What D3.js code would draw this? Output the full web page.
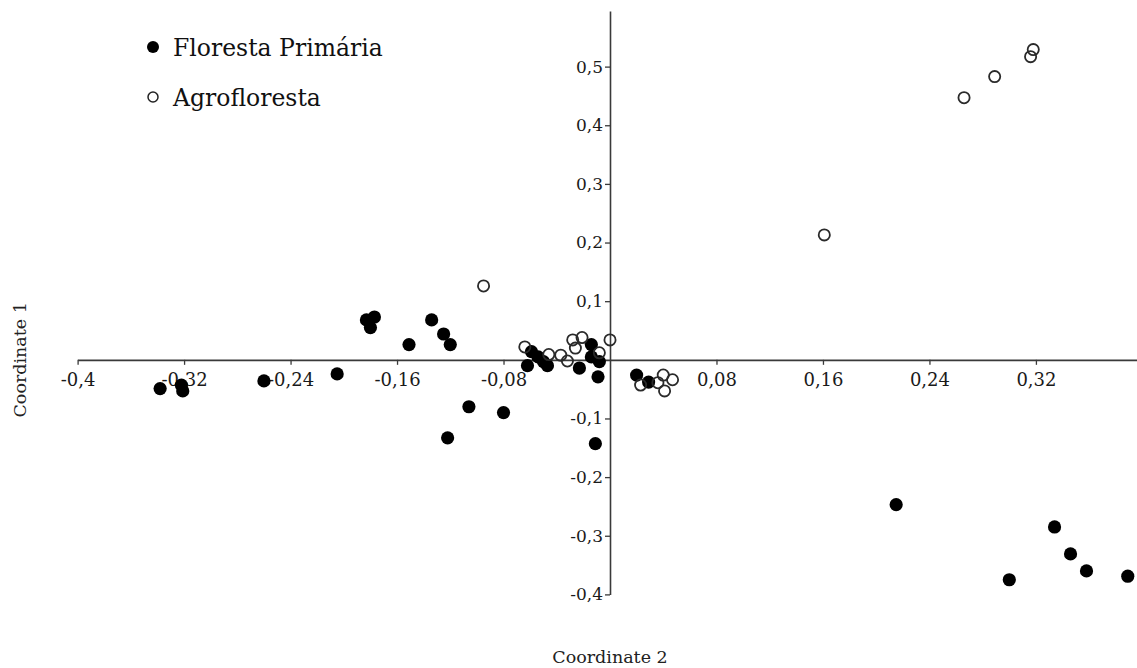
<!DOCTYPE html>
<html>
<head>
<meta charset="utf-8">
<script src="https://cdn.jsdelivr.net/npm/d3@7"></script>
<style>
  html, body { margin: 0; padding: 0; background: #fff; }
  svg { display: block; font-family: "DejaVu Serif", "Liberation Serif", serif; }
</style>
</head>
<body>
<svg id="chart" width="1137" height="668"></svg>
<script>
// ---- Data ----
const seriesNames = ["Floresta Primária", "Agrofloresta"];

// Floresta Primária: [Coordinate 2, Coordinate 1]
const florestaX = [-0.338, -0.322, -0.321, -0.260, -0.205, -0.183, -0.177, -0.180, -0.151, -0.134,
  -0.125, -0.120, -0.122, -0.106, -0.080, -0.059, -0.054, -0.050, -0.062, -0.047,
  -0.014, -0.014, -0.008, -0.023, -0.009, -0.011, 0.020, 0.029,
  0.215, 0.334, 0.346, 0.358, 0.300, 0.389];
const florestaY = [-0.049, -0.043, -0.053, -0.036, -0.024, 0.068, 0.073, 0.055, 0.026, 0.068,
  0.044, 0.026, -0.133, -0.080, -0.090, 0.014, 0.005, -0.003, -0.010, -0.010,
  0.026, 0.005, -0.003, -0.014, -0.029, -0.143, -0.026, -0.038,
  -0.247, -0.285, -0.331, -0.360, -0.375, -0.369];

// Agrofloresta
const agroX = [0.318, 0.316, 0.289, 0.266, 0.161, -0.095,
  -0.064, -0.046, -0.037, -0.032, -0.026, -0.028, -0.021, -0.008, 0.000,
  0.023, 0.036, 0.040, 0.041, 0.047];
const agroY = [0.529, 0.517, 0.483, 0.447, 0.213, 0.126,
  0.022, 0.009, 0.008, -0.002, 0.020, 0.034, 0.038, 0.012, 0.034,
  -0.043, -0.039, -0.026, -0.053, -0.034];

const xTicks = [-0.4, -0.32, -0.24, -0.16, -0.08, 0.08, 0.16, 0.24, 0.32];
const xTickLabels = ["-0,4", "-0,32", "-0,24", "-0,16", "-0,08", "0,08", "0,16", "0,24", "0,32"];
const yTicks = [-0.4, -0.3, -0.2, -0.1, 0.1, 0.2, 0.3, 0.4, 0.5];
const yTickLabels = ["-0,4", "-0,3", "-0,2", "-0,1", "0,1", "0,2", "0,3", "0,4", "0,5"];

const xTitle = "Coordinate 2";
const yTitle = "Coordinate 1";

// ---- Chart ----
const svg = d3.select("#chart");

const x = d3.scaleLinear().domain([-0.4, 0.4]).range([77.6, 1142.4]);
const y = d3.scaleLinear().domain([-0.4, 0.595]).range([594.4, 10.9]);

const axisColor = "#3a3a3a";

// X axis at y = 0
const gx = svg.append("g")
  .attr("transform", `translate(0,${y(0)})`)
  .call(d3.axisBottom(x).tickValues(xTicks).tickSize(5).tickSizeOuter(0)
    .tickFormat((d, i) => xTickLabels[i]));
gx.attr("font-size", null).attr("font-family", null);
gx.select(".domain").attr("stroke", axisColor).attr("stroke-width", 1.6);
gx.selectAll(".tick line").attr("stroke", axisColor).attr("stroke-width", 1.3);
gx.selectAll(".tick text")
  .attr("fill", "#1a1a1a")
  .style("font-size", "18px")
  .style("font-family", "'DejaVu Serif', serif")
  .attr("dy", "1.0em");

// Y axis at x = 0
const gy = svg.append("g")
  .attr("transform", `translate(${x(0)},0)`)
  .call(d3.axisLeft(y).tickValues(yTicks).tickSize(5).tickSizeOuter(0)
    .tickFormat((d, i) => yTickLabels[i]));
gy.attr("font-size", null).attr("font-family", null);
gy.select(".domain").attr("stroke", axisColor).attr("stroke-width", 1.6);
gy.selectAll(".tick line").attr("stroke", axisColor).attr("stroke-width", 1.3);
gy.selectAll(".tick text")
  .attr("fill", "#1a1a1a")
  .style("font-size", "17px")
  .style("font-family", "'DejaVu Serif', serif")
  .attr("x", -7);

// Points
const floresta = florestaX.map((v, i) => ({ x: v, y: florestaY[i] }));
const agro = agroX.map((v, i) => ({ x: v, y: agroY[i] }));

svg.append("g").selectAll("circle").data(floresta).join("circle")
  .attr("cx", d => x(d.x)).attr("cy", d => y(d.y)).attr("r", 6.6)
  .attr("fill", "#000");

svg.append("g").selectAll("circle").data(agro).join("circle")
  .attr("cx", d => x(d.x)).attr("cy", d => y(d.y)).attr("r", 5.6)
  .attr("fill", "none").attr("stroke", "#2a2a2a").attr("stroke-width", 1.8);

// Axis titles
svg.append("text")
  .attr("x", x(0)).attr("y", 663)
  .attr("text-anchor", "middle")
  .attr("font-size", 17.5).attr("fill", "#222")
  .text(xTitle);

svg.append("text")
  .attr("transform", `translate(26,${y(0)}) rotate(-90)`)
  .attr("text-anchor", "middle")
  .attr("font-size", 17.5).attr("fill", "#222")
  .text(yTitle);

// Legend
const legend = svg.append("g");
legend.append("circle").attr("cx", 153).attr("cy", 47).attr("r", 6).attr("fill", "#000");
legend.append("text").attr("x", 173).attr("y", 56)
  .attr("font-size", 23.5).attr("fill", "#111").text(seriesNames[0]);
legend.append("circle").attr("cx", 153).attr("cy", 97).attr("r", 5)
  .attr("fill", "none").attr("stroke", "#222").attr("stroke-width", 1.5);
legend.append("text").attr("x", 173).attr("y", 106)
  .attr("font-size", 23.5).attr("fill", "#111").text(seriesNames[1]);
</script>
</body>
</html>
